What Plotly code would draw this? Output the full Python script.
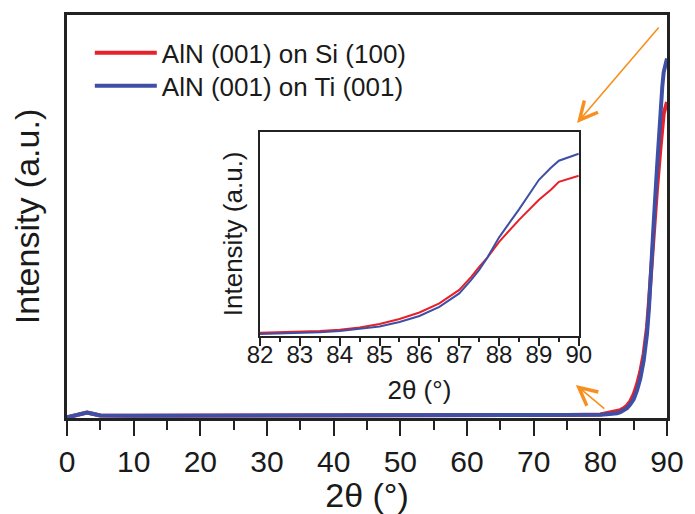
import plotly.graph_objects as go

# ---- data ----
two_theta = [0, 1, 2, 3, 4, 5, 10, 15, 20, 25, 30, 35, 40, 45, 50, 55, 60, 65, 70, 75, 80, 81,
             82, 82.5, 83, 83.5, 84, 84.5, 85, 85.5, 86, 86.5, 87, 87.3, 87.5, 87.7, 88, 88.5, 89, 89.3, 89.5, 90]
int_si = [0.3, 1.2, 2.2, 2.8, 2.0, 1.3, 1.2, 1.2, 1.2, 1.2, 1.2, 1.2, 1.2, 1.2, 1.2, 1.2, 1.2, 1.3, 1.4, 1.5, 1.8, 2.4,
          3.3, 3.6, 4.0, 4.9, 6.3, 8.5, 12.0, 17.0, 23.5, 32.5, 46.0, 59.0, 69.0, 78.0, 94.0, 116.0, 136.0, 146.0, 154.0, 160.0]
int_ti = [0.3, 1.2, 2.2, 2.8, 2.0, 1.3, 1.2, 1.2, 1.2, 1.2, 1.2, 1.2, 1.2, 1.2, 1.2, 1.2, 1.2, 1.3, 1.4, 1.5, 1.6, 1.9,
          2.0, 2.4, 3.0, 3.8, 5.0, 7.0, 9.5, 14.0, 20.0, 29.0, 42.5, 56.0, 66.0, 78.0, 98.5, 126.5, 156.0, 168.0, 175.0, 182.0]
name_si = "AlN (001) on Si (100)"
name_ti = "AlN (001) on Ti (001)"
main_ticks = [0, 10, 20, 30, 40, 50, 60, 70, 80, 90]
inset_ticks = [82, 83, 84, 85, 86, 87, 88, 89, 90]

RED = "#E8202A"
BLUE = "#3E4FA6"
ORANGE = "#F7901E"
FONT = "Liberation Sans, Arial, sans-serif"

fig = go.Figure()
fig.add_trace(go.Scatter(x=two_theta, y=int_si, mode="lines", name=name_si, legend="legend",
                         line=dict(color=RED, width=4), xaxis="x", yaxis="y"))
fig.add_trace(go.Scatter(x=two_theta, y=int_ti, mode="lines", name=name_ti, legend="legend2",
                         line=dict(color=BLUE, width=4), xaxis="x", yaxis="y"))
fig.add_trace(go.Scatter(x=two_theta, y=int_si, mode="lines", showlegend=False,
                         line=dict(color=RED, width=2), xaxis="x2", yaxis="y2"))
fig.add_trace(go.Scatter(x=two_theta, y=int_ti, mode="lines", showlegend=False,
                         line=dict(color=BLUE, width=2), xaxis="x2", yaxis="y2"))

axcol = "#222222"
legend_common = dict(xanchor="left", yanchor="middle", font=dict(size=26, family=FONT),
                     bgcolor="rgba(0,0,0,0)", itemwidth=62)
fig.update_layout(
    width=687, height=506, autosize=False,
    margin=dict(l=59, r=28, t=7, b=96, autoexpand=False),
    paper_bgcolor="white", plot_bgcolor="white",
    font=dict(family=FONT, color="#1a1a1a"),
    showlegend=True,
    legend=dict(x=0.038, y=0.906, **legend_common),
    legend2=dict(x=0.038, y=0.824, **legend_common),
    xaxis=dict(domain=[0, 1], range=[0, 90], tickvals=main_ticks, ticks="outside",
               ticklen=15, tickwidth=2, tickcolor=axcol, automargin=False,
               minor=dict(dtick=5, ticks="outside", ticklen=9, tickwidth=2, tickcolor=axcol),
               showline=True, linewidth=2.5, linecolor=axcol, mirror=True,
               showgrid=False, zeroline=False,
               tickfont=dict(size=30), title=dict(text="2θ (°)", font=dict(size=34), standoff=5)),
    yaxis=dict(domain=[0, 1], range=[0, 204], showticklabels=False, ticks="", automargin=False,
               showline=True, linewidth=2.5, linecolor=axcol, mirror=True,
               showgrid=False, zeroline=False,
               title=dict(text="Intensity (a.u.)", font=dict(size=34), standoff=16)),
    xaxis2=dict(domain=[0.3217, 0.853], range=[82, 90], anchor="y2", tickvals=inset_ticks,
                ticks="outside", ticklen=8, tickwidth=1.5, tickcolor=axcol, automargin=False,
                minor=dict(dtick=0.5, ticks="outside", ticklen=4, tickwidth=1.5, tickcolor=axcol),
                showline=True, linewidth=1.5, linecolor=axcol, mirror=True,
                showgrid=False, zeroline=False, ticklabelstandoff=-12,
                tickfont=dict(size=24), title=dict(text="2θ (°)", font=dict(size=26), standoff=14)),
    yaxis2=dict(domain=[0.2035, 0.7104], range=[0, 204], anchor="x2", showticklabels=False,
                ticks="", showline=True, linewidth=1.5, linecolor=axcol, mirror=True,
                showgrid=False, zeroline=False, automargin=False,
                title=dict(text="Intensity (a.u.)", font=dict(size=26), standoff=8)),
    annotations=[
        dict(xref="paper", yref="paper", x=0.85, y=0.732, ax=83, ay=-97, text="",
             showarrow=True, arrowhead=5, arrowsize=2.2, arrowwidth=1.6, arrowcolor=ORANGE),
        dict(xref="paper", yref="paper", x=0.848, y=0.082, ax=30, ay=25, text="",
             showarrow=True, arrowhead=5, arrowsize=2.2, arrowwidth=1.6, arrowcolor=ORANGE),
    ],
)

fig.write_html("out.html")
